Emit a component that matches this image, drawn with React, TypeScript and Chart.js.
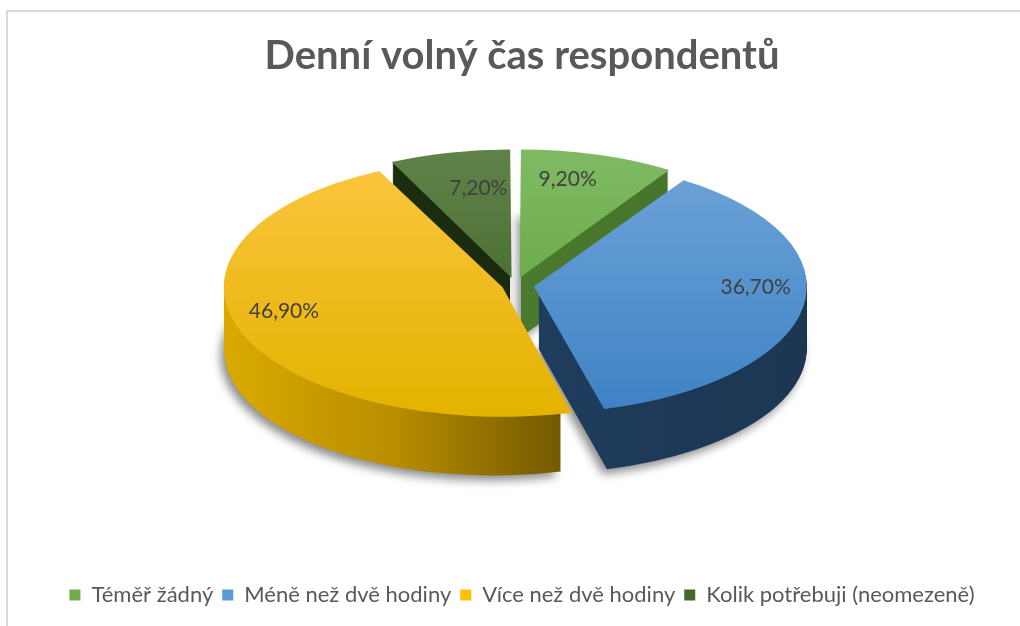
import React, { useEffect, useRef } from 'react';
import { Chart, registerables } from 'chart.js';

Chart.register(...registerables);

// ---------- data ----------
const TITLE = 'Denní volný čas respondentů';
const categories = ['Téměř žádný', 'Méně než dvě hodiny', 'Více než dvě hodiny', 'Kolik potřebuji (neomezeně)'];
const values = [9.2, 36.7, 46.9, 7.2];
const valueLabels = ['9,20%', '36,70%', '46,90%', '7,20%'];

// ---------- styles ----------
const legendColors = ['#70ad47', '#5b9bd5', '#ffc000', '#43682b'];
const topColors = [
  ['#7fba63', '#5c9f35'],
  ['#6ea4d9', '#3e82c4'],
  ['#fcc53f', '#e4b200'],
  ['#5f8249', '#395f22'],
];
const sideColors = [
  ['#528634', '#436f28'],
  ['#24446a', '#1c3652'],
  ['#dcab00', '#6b5300'],
  ['#1e3212', '#142109'],
];
const RADIUS = 268;
const TILT = 0.465;
const CENTER_Y = 285;
const PIE_DX = -7;
const DEPTH = 62;
const EXPLODE = 24;
const LABEL_CENTER_Y = 268;
const LABEL_TILT = 0.5;
const LABEL_DIST = [0.6, 0.82, 0.83, 0.52];
const FONT = 'Lato, "Open Sans", sans-serif';

const valueSum = values.reduce((a, b) => a + b, 0);

const topFill = (c: any) => {
  const i = c.dataIndex;
  const chart = c.chart;
  const a = chart.chartArea;
  if (i === undefined) return legendColors[0];
  if (!a) return legendColors[i];
  const cy = (a.top + a.bottom) / 2;
  const g = chart.ctx.createLinearGradient(0, cy - RADIUS, 0, cy + RADIUS);
  g.addColorStop(0, topColors[i][0]);
  g.addColorStop(1, topColors[i][1]);
  return g;
};

// Chart.js 4 uses offset/4 and adds extra for narrow slices: give every slice the same explosion
const sliceOffset = (c: any) => {
  const i = c.dataIndex;
  if (i === undefined) return 0;
  const circ = (values[i] / valueSum) * Math.PI * 2;
  const fix = 1 - Math.sin(Math.min(Math.PI, circ));
  return (EXPLODE / (1 + fix)) * 4;
};

function sliceGeom(el: any) {
  const p = el.getProps(['x', 'y', 'startAngle', 'endAngle', 'outerRadius', 'circumference'], true);
  const off = ((el.options && el.options.offset) || 0) / 4;
  const half = (p.startAngle + p.endAngle) / 2;
  const fix = 1 - Math.sin(Math.min(Math.PI, p.circumference || 0));
  const total = off * (1 + fix);
  return { ...p, half, total, ox: p.x + Math.cos(half) * total, oy: p.y + Math.sin(half) * total };
}

function slicePath(ctx: CanvasRenderingContext2D, el: any) {
  const g = sliceGeom(el);
  ctx.beginPath();
  ctx.moveTo(g.ox, g.oy);
  ctx.arc(g.ox, g.oy, g.outerRadius, g.startAngle, g.endAngle);
  ctx.closePath();
}

const pie3d = {
  id: 'pie3d',
  beforeDatasetsDraw(chart: any) {
    const ctx: CanvasRenderingContext2D = chart.ctx;
    const els = chart.getDatasetMeta(0).data;
    if (!els.length) return;
    const cx = els[0].x;
    const cy = els[0].y;
    const applyT = (dy: number) => {
      ctx.translate(PIE_DX, CENTER_Y + dy);
      ctx.scale(1, TILT);
      ctx.translate(0, -cy);
    };
    const order = [3, 0, 1, 2];
    for (const i of order) {
      const grad = ctx.createLinearGradient(cx - RADIUS - 30, 0, cx + RADIUS + 30, 0);
      if (i === 2) {
        grad.addColorStop(0, sideColors[i][0]);
        grad.addColorStop(0.3, '#b88d00');
        grad.addColorStop(0.61, sideColors[i][1]);
        grad.addColorStop(1, sideColors[i][1]);
      } else {
        grad.addColorStop(0, sideColors[i][0]);
        grad.addColorStop(1, sideColors[i][1]);
      }
      for (let d = DEPTH; d >= 1; d--) {
        ctx.save();
        if (d === DEPTH) {
          ctx.shadowColor = 'rgba(0,0,0,0.45)';
          ctx.shadowBlur = 10;
          ctx.shadowOffsetX = -4;
          ctx.shadowOffsetY = 5;
        }
        applyT(d);
        slicePath(ctx, els[i]);
        ctx.fillStyle = grad;
        ctx.fill();
        ctx.restore();
      }
    }
    ctx.save();
    applyT(0);
  },
  afterDatasetsDraw(chart: any) {
    const ctx: CanvasRenderingContext2D = chart.ctx;
    const els = chart.getDatasetMeta(0).data;
    if (!els.length) return;
    ctx.restore();
    ctx.save();
    ctx.font = `21px ${FONT}`;
    ctx.fillStyle = '#404040';
    ctx.textAlign = 'center';
    ctx.textBaseline = 'middle';
    els.forEach((el: any, i: number) => {
      const g = sliceGeom(el);
      const dist = LABEL_DIST[i] * g.outerRadius + g.total;
      const x = PIE_DX + g.x + Math.cos(g.half) * dist;
      const y = LABEL_CENTER_Y + Math.sin(g.half) * dist * LABEL_TILT;
      ctx.fillText(valueLabels[i], x, y);
    });
    ctx.restore();
  },
};

export default function App() {
  const ref = useRef<HTMLCanvasElement>(null);
  useEffect(() => {
    const chart = new Chart(ref.current as HTMLCanvasElement, {
      type: 'pie',
      data: {
        labels: categories,
        datasets: [
          {
            data: values,
            backgroundColor: topFill as any,
            borderWidth: 0,
            offset: sliceOffset as any,
            clip: false as any,
          } as any,
        ],
      },
      options: {
        animation: false,
        responsive: true,
        maintainAspectRatio: false,
        events: [],
        radius: RADIUS,
        layout: { padding: { left: 24, right: 0, top: 8, bottom: 10 } },
        plugins: {
          title: {
            display: true,
            text: TITLE,
            color: '#595959',
            font: { family: FONT, size: 40, weight: 'bold' },
            padding: { top: 24, bottom: 10 },
          },
          legend: {
            position: 'bottom',
            labels: {
              font: { family: FONT, size: 22 },
              color: '#595959',
              boxWidth: 11,
              boxHeight: 11,
              padding: 9,
              generateLabels: () =>
                categories.map((t, i) => ({
                  text: t,
                  fillStyle: legendColors[i],
                  strokeStyle: legendColors[i],
                  lineWidth: 0,
                  hidden: false,
                  index: i,
                  fontColor: '#595959',
                })),
            },
          },
          tooltip: { enabled: false },
        },
      } as any,
      plugins: [pie3d],
    });
    return () => chart.destroy();
  }, []);

  return (
    <div style={{ position: 'fixed', left: 0, top: 0, width: 1020, height: 626, background: '#fff' }}>
      <div
        style={{
          position: 'absolute',
          left: 6,
          top: 10,
          right: 0,
          bottom: 0,
          borderTop: '2px solid #d9d9d9',
          borderLeft: '2px solid #d9d9d9',
          pointerEvents: 'none',
        }}
      />
      <canvas ref={ref} />
    </div>
  );
}
